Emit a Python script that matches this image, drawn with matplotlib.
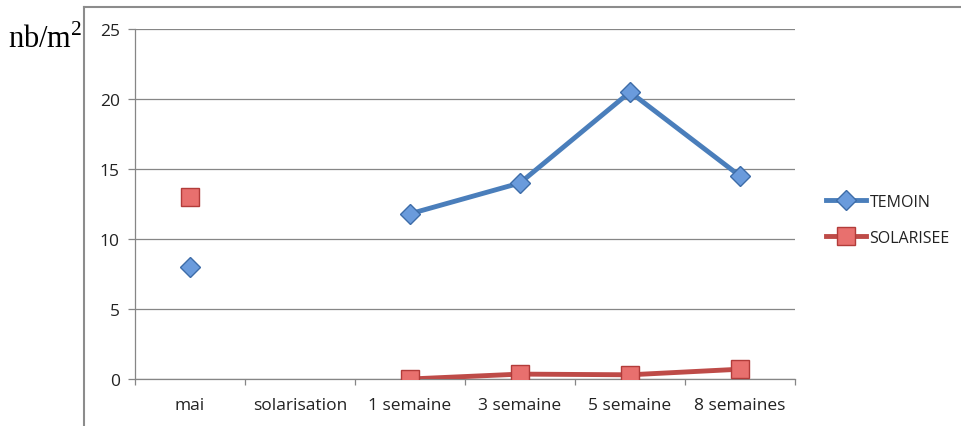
import numpy as np
import matplotlib
matplotlib.use('Agg')
import matplotlib.pyplot as plt
from matplotlib.lines import Line2D

# Données (nb/m²)
categories = ['mai', 'solarisation', '1 semaine', '3 semaine', '5 semaine', '8 semaines']
temoin = [8.0, np.nan, 11.8, 14.0, 20.5, 14.5]
solarisee = [13.0, np.nan, 0.0, 0.35, 0.3, 0.7]
y_ticks = [0, 5, 10, 15, 20, 25]

plt.rcParams['font.family'] = ['Open Sans', 'DejaVu Sans']
plt.rcParams['mathtext.fontset'] = 'custom'
plt.rcParams['mathtext.rm'] = 'Liberation Serif'

gris = '#868686'

fig = plt.figure(figsize=(9.61, 4.27), dpi=100)
ax = fig.add_axes([135 / 961, 47 / 427, 660 / 961, 350 / 427])

x = np.arange(len(categories))
ax.plot(x, temoin, color='#4A7EBB', lw=3.5, marker='D', markersize=10.5,
        markerfacecolor='#6A9BDC', markeredgecolor='#3D6CA8', markeredgewidth=1,
        label='TEMOIN', zorder=3)
ax.plot(x, solarisee, color='#BE4B48', lw=3.5, marker='s', markersize=13,
        markerfacecolor='#E8706E', markeredgecolor='#B23C3A', markeredgewidth=1,
        label='SOLARISEE', zorder=3)

ax.set_xlim(-0.5, len(categories) - 0.5)
ax.set_ylim(0, 25)
ax.set_yticks(y_ticks)
ax.set_xticks(x)
ax.set_xticklabels(categories)
ax.set_xticks(np.arange(-0.5, len(categories)), minor=True)

ax.grid(axis='y', color=gris, lw=0.9)
ax.set_axisbelow(True)
for s in ['top', 'right']:
    ax.spines[s].set_visible(False)
for s in ['left', 'bottom']:
    ax.spines[s].set_color(gris)
    ax.spines[s].set_linewidth(0.9)

ax.tick_params(axis='y', direction='out', length=5, width=0.9, color=gris,
               pad=6, labelsize=12.5, labelcolor='#222222')
ax.tick_params(axis='x', which='major', length=0, pad=13, labelsize=12.5,
               labelcolor='#222222')
ax.tick_params(axis='x', which='minor', direction='out', length=4, width=0.9,
               color=gris)

leg = ax.legend(loc='center left', bbox_to_anchor=(812 / 961, 206 / 427),
                bbox_transform=fig.transFigure, frameon=False, fontsize=11.5,
                handlelength=2.5, handletextpad=0.2, labelspacing=1.25)
for t in leg.get_texts():
    t.set_color('#222222')

# cadre du graphique (bords haut et gauche visibles)
fig.add_artist(Line2D([84 / 961, 1], [419 / 427, 419 / 427], color='#8C8C8C', lw=1.5))
fig.add_artist(Line2D([84 / 961, 84 / 961], [0, 419 / 427], color='#8C8C8C', lw=1.5))

fig.text(8 / 961, 379 / 427, r'nb/m$^{2}$', fontsize=22, family='Liberation Serif',
         va='baseline', ha='left')

fig.savefig('out.png', dpi=100)
